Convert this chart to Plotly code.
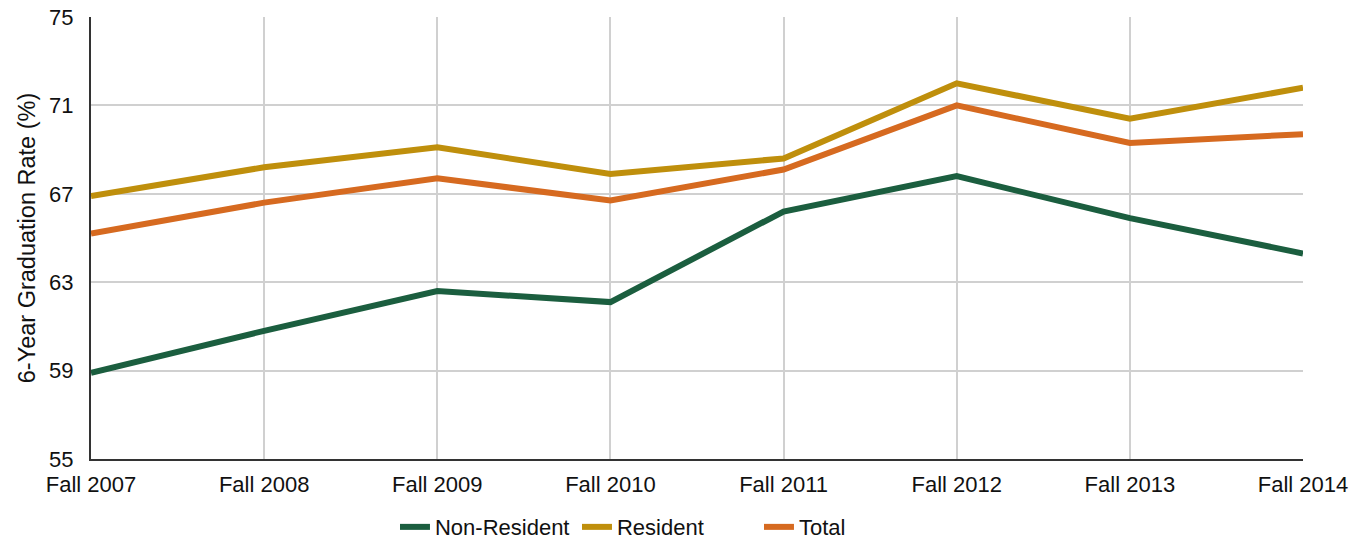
import plotly.graph_objects as go

categories = ["Fall 2007", "Fall 2008", "Fall 2009", "Fall 2010", "Fall 2011", "Fall 2012", "Fall 2013", "Fall 2014"]
non_resident = [58.9, 60.8, 62.6, 62.1, 66.2, 67.8, 65.9, 64.3]
resident = [66.9, 68.2, 69.1, 67.9, 68.6, 72.0, 70.4, 71.8]
total = [65.2, 66.6, 67.7, 66.7, 68.1, 71.0, 69.3, 69.7]
y_ticks = [55, 59, 63, 67, 71, 75]

fig = go.Figure()
for name, vals, color in [("Non-Resident", non_resident, "#1b5e3f"),
                          ("Resident", resident, "#bf8f0c"),
                          ("Total", total, "#d66a20")]:
    fig.add_trace(go.Scatter(x=categories, y=vals, name=name, mode="lines",
                             line=dict(color=color, width=6)))

# page body has an 8px margin, so the figure is 8px smaller than the window
fig.update_layout(
    width=1351, height=531,
    margin=dict(l=83, r=56, t=9, b=80, autoexpand=False),
    plot_bgcolor="white", paper_bgcolor="white",
    font=dict(family="Liberation Sans, Arial, sans-serif", size=22, color="#111"),
    showlegend=True,
    legend=dict(orientation="h", x=0.2508, xanchor="left", y=-0.154, yanchor="middle",
                entrywidth=137, font=dict(size=22)),
    xaxis=dict(showgrid=True, gridcolor="#d0d0d0", gridwidth=1.5,
               showline=True, linecolor="#333", linewidth=2, automargin=False,
               range=[0, 7], ticks="", tickfont=dict(size=22), ticklabelstandoff=5,
               ticklabeloverflow="allow"),
    yaxis=dict(range=[55, 75], tickvals=y_ticks, showgrid=True, gridcolor="#d0d0d0", gridwidth=1.5,
               showline=True, linecolor="#333", linewidth=2, ticks="", automargin=False,
               ticklabelstandoff=11, ticklabeloverflow="allow",
               title=dict(text="6-Year Graduation Rate (%)", font=dict(size=23.5), standoff=7),
               tickfont=dict(size=22), zeroline=False),
)
fig.write_html("out.html")
